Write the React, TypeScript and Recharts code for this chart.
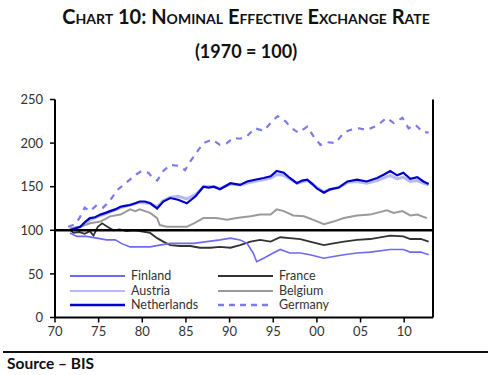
import React from "react";
import { LineChart, Line, XAxis, YAxis, ReferenceLine } from "recharts";

const FONT = 'Lato, "Open Sans", sans-serif';

const xTicks = [1970, 1975, 1980, 1985, 1990, 1995, 2000, 2005, 2010];
const yTicks = [0, 50, 100, 150, 200, 250];

const germany: [number, number][] = [
  [1971.5, 104], [1972.3, 107], [1972.8, 114], [1973.4, 126], [1974.0, 122], [1974.8, 129],
  [1975.5, 126], [1975.9, 130], [1976.5, 137], [1977.1, 146], [1977.6, 150], [1978.2, 155],
  [1978.8, 160], [1979.3, 164], [1979.9, 168], [1980.7, 166], [1981.2, 160], [1981.7, 157],
  [1982.4, 168], [1983.2, 175], [1984.1, 174], [1984.9, 169], [1985.5, 179], [1986.2, 189],
  [1987.0, 200], [1988.0, 204], [1988.9, 198], [1989.7, 200], [1990.4, 206], [1991.2, 205],
  [1992.0, 208], [1992.9, 217], [1993.9, 214], [1994.7, 223], [1995.5, 231], [1996.4, 225],
  [1997.1, 217], [1997.9, 212], [1998.9, 219], [1999.6, 208], [2000.4, 198], [2001.2, 201],
  [2002.1, 200], [2003.1, 212], [2003.8, 215], [2004.8, 217], [2005.7, 215], [2006.9, 220],
  [2008.0, 229], [2008.8, 223], [2009.8, 229], [2010.5, 217], [2011.3, 221], [2012.1, 213],
  [2012.8, 212],
];

const netherlands: [number, number][] = [
  [1971.7, 100], [1972.3, 102], [1972.9, 104], [1973.5, 110], [1974.0, 114], [1974.6, 115],
  [1975.2, 118], [1975.8, 120], [1976.3, 122], [1976.9, 124], [1977.5, 127], [1978.0, 128],
  [1978.6, 129], [1979.2, 131], [1979.7, 133], [1980.3, 133], [1980.9, 131], [1981.7, 125],
  [1982.4, 133], [1983.2, 137], [1984.1, 135], [1985.1, 131], [1986.1, 139], [1987.0, 150],
  [1987.6, 149], [1988.2, 150], [1988.9, 147], [1990.1, 154], [1991.2, 152], [1992.0, 156],
  [1992.9, 158], [1993.9, 160], [1994.7, 162], [1995.4, 168], [1996.2, 166], [1996.9, 160],
  [1997.7, 154], [1998.3, 157], [1998.9, 158], [1999.5, 153], [2000.0, 148], [2000.8, 143],
  [2001.5, 147], [2002.5, 149], [2003.5, 156], [2004.6, 158], [2005.7, 156], [2006.9, 160],
  [2007.7, 164], [2008.4, 168], [2009.2, 163], [2009.9, 166], [2010.7, 159], [2011.5, 161],
  [2012.2, 156], [2012.8, 153],
];

const austria: [number, number][] = [
  [1971.7, 101], [1972.9, 104], [1974.0, 112], [1975.2, 117], [1976.3, 121], [1977.5, 126],
  [1978.6, 129], [1979.7, 132], [1980.9, 131], [1981.7, 127], [1982.4, 134], [1983.2, 138],
  [1984.1, 139], [1985.1, 136], [1986.1, 141], [1987.0, 150], [1988.2, 150], [1988.9, 148],
  [1990.1, 153], [1991.2, 152], [1992.4, 155], [1993.3, 157], [1993.9, 158], [1994.7, 160],
  [1995.4, 164], [1996.2, 163], [1996.9, 159], [1997.7, 154], [1998.9, 157], [2000.0, 149],
  [2000.8, 144], [2001.5, 147], [2002.5, 149], [2003.5, 155], [2004.6, 156], [2005.7, 154],
  [2006.9, 157], [2008.4, 163], [2009.2, 159], [2009.9, 161], [2010.7, 156], [2011.5, 157],
  [2012.2, 154], [2012.8, 152],
];

const belgium: [number, number][] = [
  [1971.7, 102], [1972.9, 104], [1974.0, 108], [1975.2, 110], [1975.8, 113], [1976.3, 116],
  [1977.5, 118], [1978.6, 124], [1979.2, 122], [1979.7, 124], [1980.9, 120], [1981.7, 114],
  [1982.0, 106], [1982.8, 104], [1983.9, 104], [1985.1, 104], [1985.9, 108], [1987.0, 114],
  [1988.5, 114], [1989.7, 112], [1990.8, 114], [1992.4, 116], [1993.5, 118], [1994.7, 118],
  [1995.4, 124], [1996.2, 122], [1997.3, 117], [1998.5, 116], [1999.6, 112], [2000.8, 107],
  [2001.9, 110], [2003.1, 114], [2004.6, 117], [2006.1, 118], [2008.0, 123], [2008.8, 120],
  [2009.8, 122], [2010.7, 117], [2011.5, 118], [2012.6, 114],
];

const france: [number, number][] = [
  [1971.7, 101], [1972.1, 97], [1972.8, 98], [1973.4, 96], [1974.0, 99], [1974.4, 94],
  [1974.9, 104], [1975.4, 108], [1976.0, 104], [1976.7, 100], [1977.4, 101], [1978.2, 99],
  [1979.0, 100], [1979.7, 99], [1980.9, 97], [1981.7, 91], [1982.4, 87], [1983.2, 83],
  [1984.3, 82], [1985.5, 82], [1986.6, 80], [1987.8, 80], [1988.9, 81], [1990.1, 80],
  [1991.2, 83], [1992.4, 87], [1993.5, 89], [1994.7, 87], [1995.8, 92], [1996.9, 91],
  [1998.1, 90], [1999.2, 87], [2000.8, 83], [2001.9, 85], [2003.1, 87], [2004.6, 89],
  [2006.1, 90], [2008.4, 94], [2009.9, 93], [2010.7, 90], [2011.9, 90], [2012.8, 87],
];

const finland: [number, number][] = [
  [1971.7, 97], [1972.5, 93], [1973.6, 93], [1974.8, 91], [1975.9, 89], [1976.9, 89],
  [1977.6, 85], [1978.6, 81], [1979.7, 81], [1980.9, 81], [1982.0, 83], [1983.2, 85],
  [1984.3, 85], [1985.9, 85], [1987.4, 87], [1988.9, 89], [1990.1, 91], [1991.2, 89],
  [1992.0, 85], [1992.7, 74], [1993.1, 64], [1993.9, 68], [1995.0, 74], [1995.8, 78],
  [1996.9, 74], [1998.1, 74], [1999.2, 72], [2000.8, 68], [2001.9, 70], [2003.1, 72],
  [2004.6, 74], [2006.1, 75], [2008.4, 78], [2009.9, 78], [2010.7, 75], [2011.9, 75],
  [2012.8, 72],
];

const toData = (arr: [number, number][]) => arr.map(([x, y]) => ({ x, y }));

const COLORS = {
  finland: "#6b6bf0",
  austria: "#b8b8f4",
  netherlands: "#0000cc",
  france: "#333333",
  belgium: "#9a9a9a",
  germany: "#7b7bee",
};

const legendItems = [
  { name: "Finland", color: COLORS.finland, dash: false, w: 2, col: 0, row: 0 },
  { name: "Austria", color: COLORS.austria, dash: false, w: 2, col: 0, row: 1 },
  { name: "Netherlands", color: COLORS.netherlands, dash: false, w: 2.5, col: 0, row: 2 },
  { name: "France", color: COLORS.france, dash: false, w: 2, col: 1, row: 0 },
  { name: "Belgium", color: COLORS.belgium, dash: false, w: 2, col: 1, row: 1 },
  { name: "Germany", color: COLORS.germany, dash: true, w: 2.5, col: 1, row: 2 },
];

const tickStyle = { fontFamily: FONT, fontSize: 13, fill: "#333" };
const fmtYear = (v: number) => String(v % 100).padStart(2, "0");

export default function App() {
  return (
    <div style={{ position: "absolute", left: 0, top: 0, width: 492, height: 375, background: "#fff", fontFamily: FONT }}>
      <div style={{ position: "absolute", top: 4, left: 0, width: 492, textAlign: "center", fontWeight: 700, fontSize: 20, fontVariant: "small-caps", color: "#111" }}>
        Chart 10: Nominal Effective Exchange Rate
      </div>
      <div style={{ position: "absolute", top: 40, left: 0, width: 492, textAlign: "center", fontWeight: 700, fontSize: 18, color: "#111" }}>
        (1970 = 100)
      </div>
      <div style={{ position: "absolute", top: 0, left: 0 }}>
        <LineChart width={492} height={375} margin={{ top: 99.5, right: 9, left: 0, bottom: 27.5 }}>
          <XAxis
            dataKey="x"
            type="number"
            domain={[1970, 2013.3]}
            allowDataOverflow
            ticks={xTicks}
            tickFormatter={fmtYear}
            height={30}
            tickSize={5}
            tickMargin={4}
            axisLine={{ stroke: "#000", strokeWidth: 2 }}
            tickLine={{ stroke: "#000", strokeWidth: 1.5 }}
            tick={tickStyle}
          />
          <YAxis
            yAxisId="left"
            domain={[0, 250]}
            ticks={yTicks}
            width={55}
            tickSize={5}
            tickMargin={7}
            axisLine={{ stroke: "#000", strokeWidth: 2 }}
            tickLine={{ stroke: "#000", strokeWidth: 1.5 }}
            tick={tickStyle}
          />
          <YAxis
            yAxisId="right"
            orientation="right"
            domain={[0, 250]}
            ticks={yTicks}
            width={50}
            tickSize={4}
            tickMargin={6}
            axisLine={{ stroke: "#000", strokeWidth: 2 }}
            tickLine={{ stroke: "#000", strokeWidth: 1.5 }}
            tick={tickStyle}
          />
          <Line yAxisId="left" data={toData(austria)} dataKey="y" stroke={COLORS.austria} strokeWidth={3} dot={false} isAnimationActive={false} />
          <Line yAxisId="left" data={toData(belgium)} dataKey="y" stroke={COLORS.belgium} strokeWidth={2} dot={false} isAnimationActive={false} />
          <Line yAxisId="left" data={toData(france)} dataKey="y" stroke={COLORS.france} strokeWidth={1.8} dot={false} isAnimationActive={false} />
          <Line yAxisId="left" data={toData(finland)} dataKey="y" stroke={COLORS.finland} strokeWidth={1.6} dot={false} isAnimationActive={false} />
          <Line yAxisId="left" data={toData(netherlands)} dataKey="y" stroke={COLORS.netherlands} strokeWidth={2.2} dot={false} isAnimationActive={false} />
          <Line yAxisId="left" data={toData(germany)} dataKey="y" stroke={COLORS.germany} strokeWidth={2.2} strokeDasharray="6 6" dot={false} isAnimationActive={false} />
          <ReferenceLine yAxisId="left" y={100} stroke="#000" strokeWidth={2.5} />
        </LineChart>
      </div>
      {legendItems.map((it) => {
        const lx = it.col === 0 ? 70 : 218;
        const ty = 276 + it.row * 14.5;
        return (
          <div key={it.name}>
            <svg style={{ position: "absolute", left: lx, top: ty - 3 }} width={56} height={6}>
              <line x1={0} y1={3} x2={55} y2={3} stroke={it.color} strokeWidth={it.w} strokeDasharray={it.dash ? "6 5" : undefined} />
            </svg>
            <div style={{ position: "absolute", left: lx + 61, top: ty - 9, fontSize: 12.5, color: "#333", lineHeight: "18px" }}>
              {it.name}
            </div>
          </div>
        );
      })}
      <div style={{ position: "absolute", left: 3, top: 351, width: 485, height: 2, background: "#111" }} />
      <div style={{ position: "absolute", left: 7, top: 354, fontSize: 15.5, fontWeight: 700, color: "#111" }}>
        Source – BIS
      </div>
    </div>
  );
}
